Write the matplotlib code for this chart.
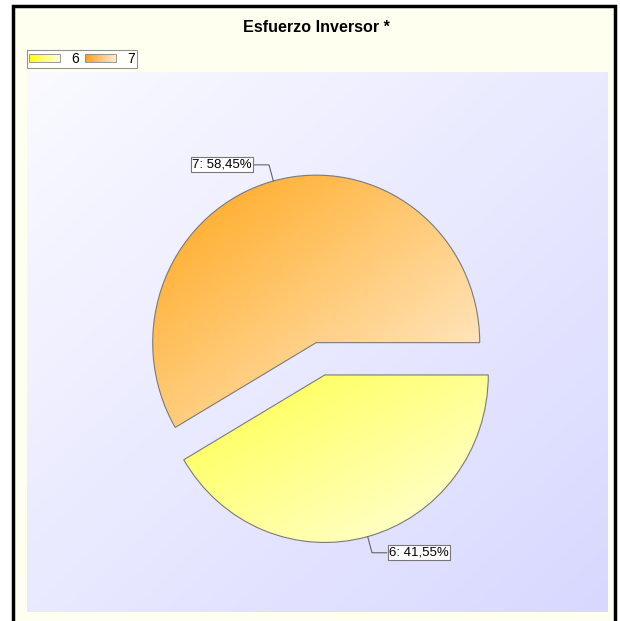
import numpy as np
import matplotlib.pyplot as plt
from matplotlib.colors import LinearSegmentedColormap
from matplotlib.patches import Rectangle, Patch
from matplotlib.legend_handler import HandlerBase

plt.rcParams['font.family'] = ['Liberation Sans', 'DejaVu Sans']

title = 'Esfuerzo Inversor *'
labels = ['6', '7']
values = [41.55, 58.45]
# gradient ends per slice: top-left -> bottom-right
colors_start = ['#FFFF45', '#FFA618']
colors_end = ['#FFFFE0', '#FFF0DA']
legend_start = ['#FFFF10', '#FFA020']
legend_end = ['#FFFFE0', '#FFE8CC']


class GradHandler(HandlerBase):
    """legend box with a horizontal gradient"""
    def __init__(self, c0, c1, n=24):
        super().__init__()
        self.cmap = LinearSegmentedColormap.from_list('h', [c0, c1])
        self.n = n

    def create_artists(self, legend, orig_handle, xdescent, ydescent,
                       width, height, fontsize, trans):
        arts = []
        step = width / self.n
        for i in range(self.n):
            arts.append(Rectangle((-xdescent + i * step, -ydescent), step * 1.05, height,
                                  facecolor=self.cmap(i / (self.n - 1)), edgecolor='none',
                                  antialiased=False, transform=trans))
        arts.append(Rectangle((-xdescent, -ydescent), width, height, facecolor='none',
                              edgecolor='#888888', lw=0.6, transform=trans))
        return arts


W, H = 620, 621
fig = plt.figure(figsize=(W / 100, H / 100), dpi=100, facecolor='white')

# outer frame (bottom edge runs off the image)
fig.add_artist(Rectangle((13 / W, -0.05), 602 / W, 1.05 - 6 / H,
                         transform=fig.transFigure, facecolor='#FFFFF0',
                         edgecolor='black', lw=2.5, zorder=0))

# diagonal gradient helper, 0 at top-left, 1 at bottom-right
yy, xx = np.mgrid[0:1:200j, 0:1:200j]
grad = (xx + yy) / 2

# plot area background
bg = fig.add_axes([27 / W, 1 - 612 / H, 581 / W, 540 / H])
bg.imshow(grad, cmap=LinearSegmentedColormap.from_list('bg', ['#FAFAFF', '#D8D8FF']),
          aspect='auto', extent=[0, 1, 0, 1], origin='upper', interpolation='bilinear')
bg.axis('off')

# pie (slightly taller than wide, as in the original)
L = 1.6
sx, sy = 163.5, 167.5       # px per unit
cxp, cyp = 320.5, 358.8     # pie centre in px from top-left
aw, ah = 2 * L * sx, 2 * L * sy
ax = fig.add_axes([(cxp - aw / 2) / W, (H - cyp - ah / 2) / H, aw / W, ah / H])
ax.set_zorder(2)
total = sum(values)
wedges, _ = ax.pie(values, explode=[0.1, 0.1], startangle=360 * values[1] / total,
                   radius=1, wedgeprops=dict(edgecolor='#7a7a7a', linewidth=0.8))

for w, c0, c1 in zip(wedges, colors_start, colors_end):
    ext = w.get_path().get_extents()
    im = ax.imshow(grad, cmap=LinearSegmentedColormap.from_list('g', [c0, c1]),
                   extent=[ext.x0, ext.x1, ext.y0, ext.y1], origin='upper',
                   interpolation='bilinear', zorder=0.9)
    im.set_clip_path(w)
    w.set_facecolor('none')

# leader lines + labels
for w, lab, v in zip(wedges, labels, values):
    ang = np.deg2rad((w.theta1 + w.theta2) / 2)
    cx, cy = w.center
    p0 = (cx + np.cos(ang), cy + np.sin(ang))
    p1 = (cx + 1.1 * np.cos(ang), cy + 1.1 * np.sin(ang))
    side = 1 if np.cos(ang) > 0 else -1
    p2 = (p1[0] + side * 0.09, p1[1])
    ax.plot([p0[0], p1[0], p2[0]], [p0[1], p1[1], p2[1]], color='#666666', lw=0.8)
    txt = f'{lab}: {100 * v / total:.2f}%'.replace('.', ',')
    ax.text(p2[0] + side * 0.015, p2[1], txt, ha='left' if side > 0 else 'right',
            va='center', fontsize=9.5,
            bbox=dict(boxstyle='square,pad=0.12', fc='white', ec='#777777', lw=0.8))

ax.set_xlim(-L, L)
ax.set_ylim(-L, L)
ax.set_aspect('auto')
ax.axis('off')

fig.text(316 / W, 1 - 28 / H, title, ha='center', va='center',
         fontsize=11.6, fontweight='bold')

handles = [Patch(label=l) for l in labels]
hmap = {h: GradHandler(c0, c1) for h, c0, c1 in zip(handles, legend_start, legend_end)}
leg = fig.legend(handles, labels, handler_map=hmap, loc='upper left',
                 bbox_to_anchor=(27 / W, 1 - 50 / H),
                 ncol=2, fontsize=10, frameon=True, fancybox=False, edgecolor='#777777',
                 handlelength=2.2, handleheight=0.5, handletextpad=0.8,
                 columnspacing=0.5, borderpad=0.15, borderaxespad=0)
leg.get_frame().set_linewidth(0.8)
leg.get_frame().set_facecolor('white')

fig.savefig('out.png', dpi=100)
